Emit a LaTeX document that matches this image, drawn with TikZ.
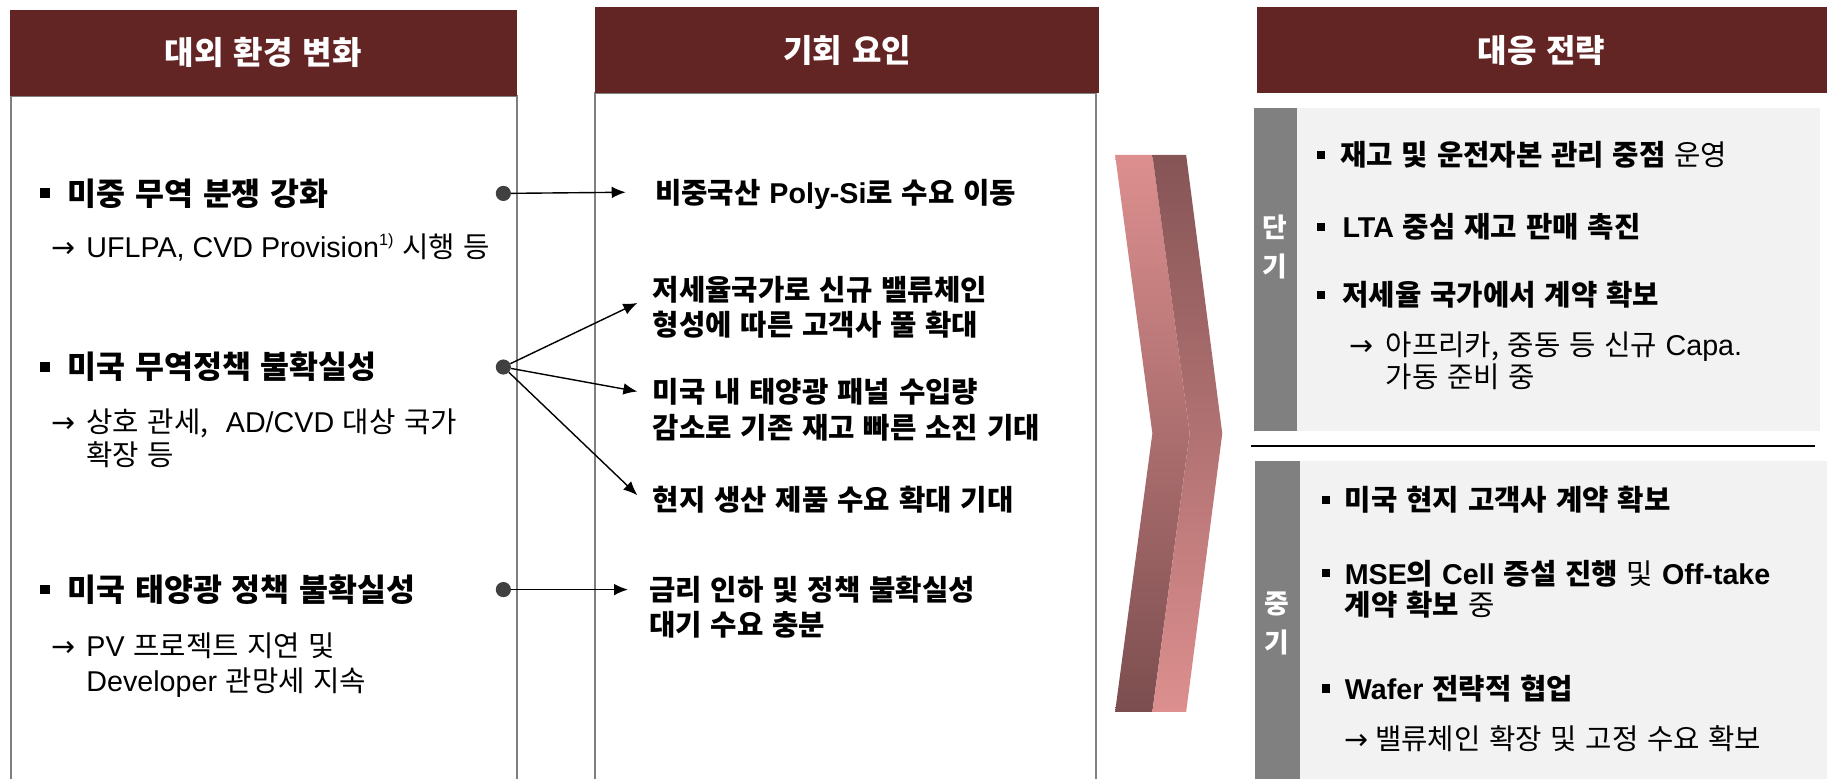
\documentclass[tikz,border=0pt]{standalone}
\usepackage{fontspec}
\setmainfont{Noto Sans CJK KR}[WordSpace=1.35]
\newfontfamily\latinf{Liberation Sans}
\newfontfamily\arrowf{DejaVu Sans}
\usetikzlibrary{arrows.meta}
\definecolor{hdrred}{RGB}{99,36,36}
\definecolor{boxgray}{RGB}{128,128,128}
\definecolor{panelgray}{RGB}{242,242,242}
\definecolor{dotgray}{RGB}{64,64,64}
\definecolor{pinkL}{RGB}{221,143,143}
\definecolor{pinkD}{RGB}{124,78,79}
\newcommand\Lt[1]{{\latinf #1}}
\newcommand\Arr{{\arrowf →}}
\newcommand\Bul[2]{\llap{\rule[5.8pt]{#1}{#1}\hspace{#2}}}
\newcommand\ArrL[1]{\llap{\Arr\hspace{#1}}}
\newcommand\Sup[1]{\raisebox{0.42em}{\fontsize{14}{14}\selectfont\latinf #1}}
\begin{document}
\begin{tikzpicture}[x=1pt,y=-1pt,
  hdr/.style={fill=hdrred,draw=none},
  hdrtext/.style={text=white,inner sep=0,font=\fontsize{27.5}{30}\selectfont\bfseries,text height=22.5pt,text depth=2pt},
  frame/.style={draw=boxgray,line width=1.7pt},
  txt/.style={anchor=west,inner sep=0},
  big/.style={txt,font=\fontsize{27}{30}\selectfont\bfseries,text height=22pt,text depth=2pt},
  midt/.style={txt,font=\fontsize{24.6}{30}\selectfont\bfseries,text height=20.2pt,text depth=1.7pt},
  sub/.style={txt,font=\fontsize{24.6}{30}\selectfont,text height=20.2pt,text depth=1.7pt},
  tag/.style={inner sep=0,text=white,font=\fontsize{23}{24}\selectfont\bfseries,text height=18.8pt,text depth=1.6pt},
  dot/.style={circle,fill=dotgray,inner sep=0,minimum size=13pt},
  conn/.style={line width=1.2pt,-{Latex[length=12pt,width=10pt]}},
  sep/.style={line width=1.5pt,draw=black}]
\useasboundingbox (0,0) rectangle (1568,668);
\clip (0,0) rectangle (1568,668);

% ---------- left column ----------
\draw[frame] (9.5,82) rectangle (444,690);
\fill[hdr] (8.5,8.6) rectangle (444,82);
\node[hdrtext] (H1) at (226,45) {대외 환경 변화};

\node[big] (L1) at (58,166) {\Bul{8.5pt}{15pt}미중 무역 분쟁 강화};
\node[sub] (L1s) at (74,212) {\ArrL{9pt}\Lt{UFLPA, CVD Provision}\Sup{1)} 시행 등};
\node[big] (L2) at (58,315) {\Bul{8.5pt}{15pt}미국 무역정책 불확실성};
\node[sub] (L2s) at (74,362) {\ArrL{9pt}상호 관세,\ \ \Lt{AD/CVD} 대상 국가};
\node[sub] (L2t) at (74,390) {확장 등};
\node[big] (L3) at (58,506) {\Bul{8.5pt}{15pt}미국 태양광 정책 불확실성};
\node[sub] (L3s) at (74,554) {\ArrL{9pt}\Lt{PV} 프로젝트 지연 및};
\node[sub] (L3t) at (74,584) {\Lt{Developer} 관망세 지속};

\node[dot] (d1) at (432,166) {};
\node[dot] (d2) at (432,315) {};
\node[dot] (d3) at (432,506) {};

% ---------- middle column ----------
\draw[frame] (511,80) rectangle (941,690);
\fill[hdr] (511,6) rectangle (943,80);
\node[hdrtext] (H2) at (727,43) {기회 요인};

\node[midt] (M1) at (562,165) {비중국산 \Lt{Poly-Si}로 수요 이동};
\node[midt] (M2a) at (560,249) {저세율국가로 신규 밸류체인};
\node[midt] (M2b) at (560,279) {형성에 따른 고객사 풀 확대};
\node[midt] (M3a) at (560,336) {미국 내 태양광 패널 수입량};
\node[midt] (M3b) at (560,367) {감소로 기존 재고 빠른 소진 기대};
\node[midt] (M4) at (560,429) {현지 생산 제품 수요 확대 기대};
\node[midt] (M5a) at (557,506) {금리 인하 및 정책 불확실성};
\node[midt] (M5b) at (557,536) {대기 수요 충분};

\draw[conn] (d1) -- ([xshift=-25pt]M1.west);
\draw[conn] (d2) -- ([xshift=-13pt,yshift=-11pt]M2a.west);
\draw[conn] (d2) -- ([xshift=-13pt]M3a.west);
\draw[conn] (d2) -- ([xshift=-13pt,yshift=4pt]M4.west);
\draw[conn] (d3) -- ([xshift=-18pt]M5a.west);

% ---------- chevron ----------
\shade[top color=pinkL,bottom color=pinkD] (957,133) -- (989,133) -- (1021,372) -- (989,611) -- (957,611) -- (989,372) -- cycle;
\shade[top color=pinkD!90!pinkL,bottom color=pinkL] (989,133) -- (1018,133) -- (1049,372) -- (1018,611) -- (989,611) -- (1021,372) -- cycle;

% ---------- right column ----------
\fill[hdr] (1079,6) rectangle (1570,80);
\node[hdrtext] (H3) at (1323,43) {대응 전략};

\fill[panelgray] (1113,93) rectangle (1562,370);
\fill[boxgray] (1076,93) rectangle (1113,370);
\node[tag] (T1a) at (1094.5,195) {단};
\node[tag] (T1b) at (1094.5,229) {기};

\node[midt] (R1) at (1150,133) {\Bul{7pt}{13pt}재고 및 운전자본 관리 중점 \mdseries 운영};
\node[midt] (R2) at (1152,195) {\Bul{7pt}{15pt}\Lt{LTA} 중심 재고 판매 촉진};
\node[midt] (R3) at (1152,253) {\Bul{7pt}{15pt}저세율 국가에서 계약 확보};
\node[sub] (R3s) at (1189,296) {\ArrL{10pt}아프리카, 중동 등 신규 \Lt{Capa.}};
\node[sub] (R3t) at (1189,323) {가동 준비 중};

\draw[sep] (1074,383) -- (1558,383);

\fill[panelgray] (1116,396) rectangle (1570,690);
\fill[boxgray] (1077,396) rectangle (1116,690);
\node[tag] (T2a) at (1096,518) {중};
\node[tag] (T2b) at (1096,551) {기};

\node[midt] (N1) at (1154,429) {\Bul{7pt}{13pt}미국 현지 고객사 계약 확보};
\node[midt] (N2) at (1154,492) {\Bul{7pt}{13pt}\Lt{MSE}의 \Lt{Cell} 증설 진행 {\mdseries 및} \Lt{Off-take}};
\node[midt] (N2b) at (1154,519) {계약 확보 {\mdseries 중}};
\node[midt] (N3) at (1154,591) {\Bul{7pt}{13pt}\Lt{Wafer} 전략적 협업};
\node[sub] (N3s) at (1180,634) {\ArrL{6pt}밸류체인 확장 및 고정 수요 확보};
\end{tikzpicture}
\end{document}
